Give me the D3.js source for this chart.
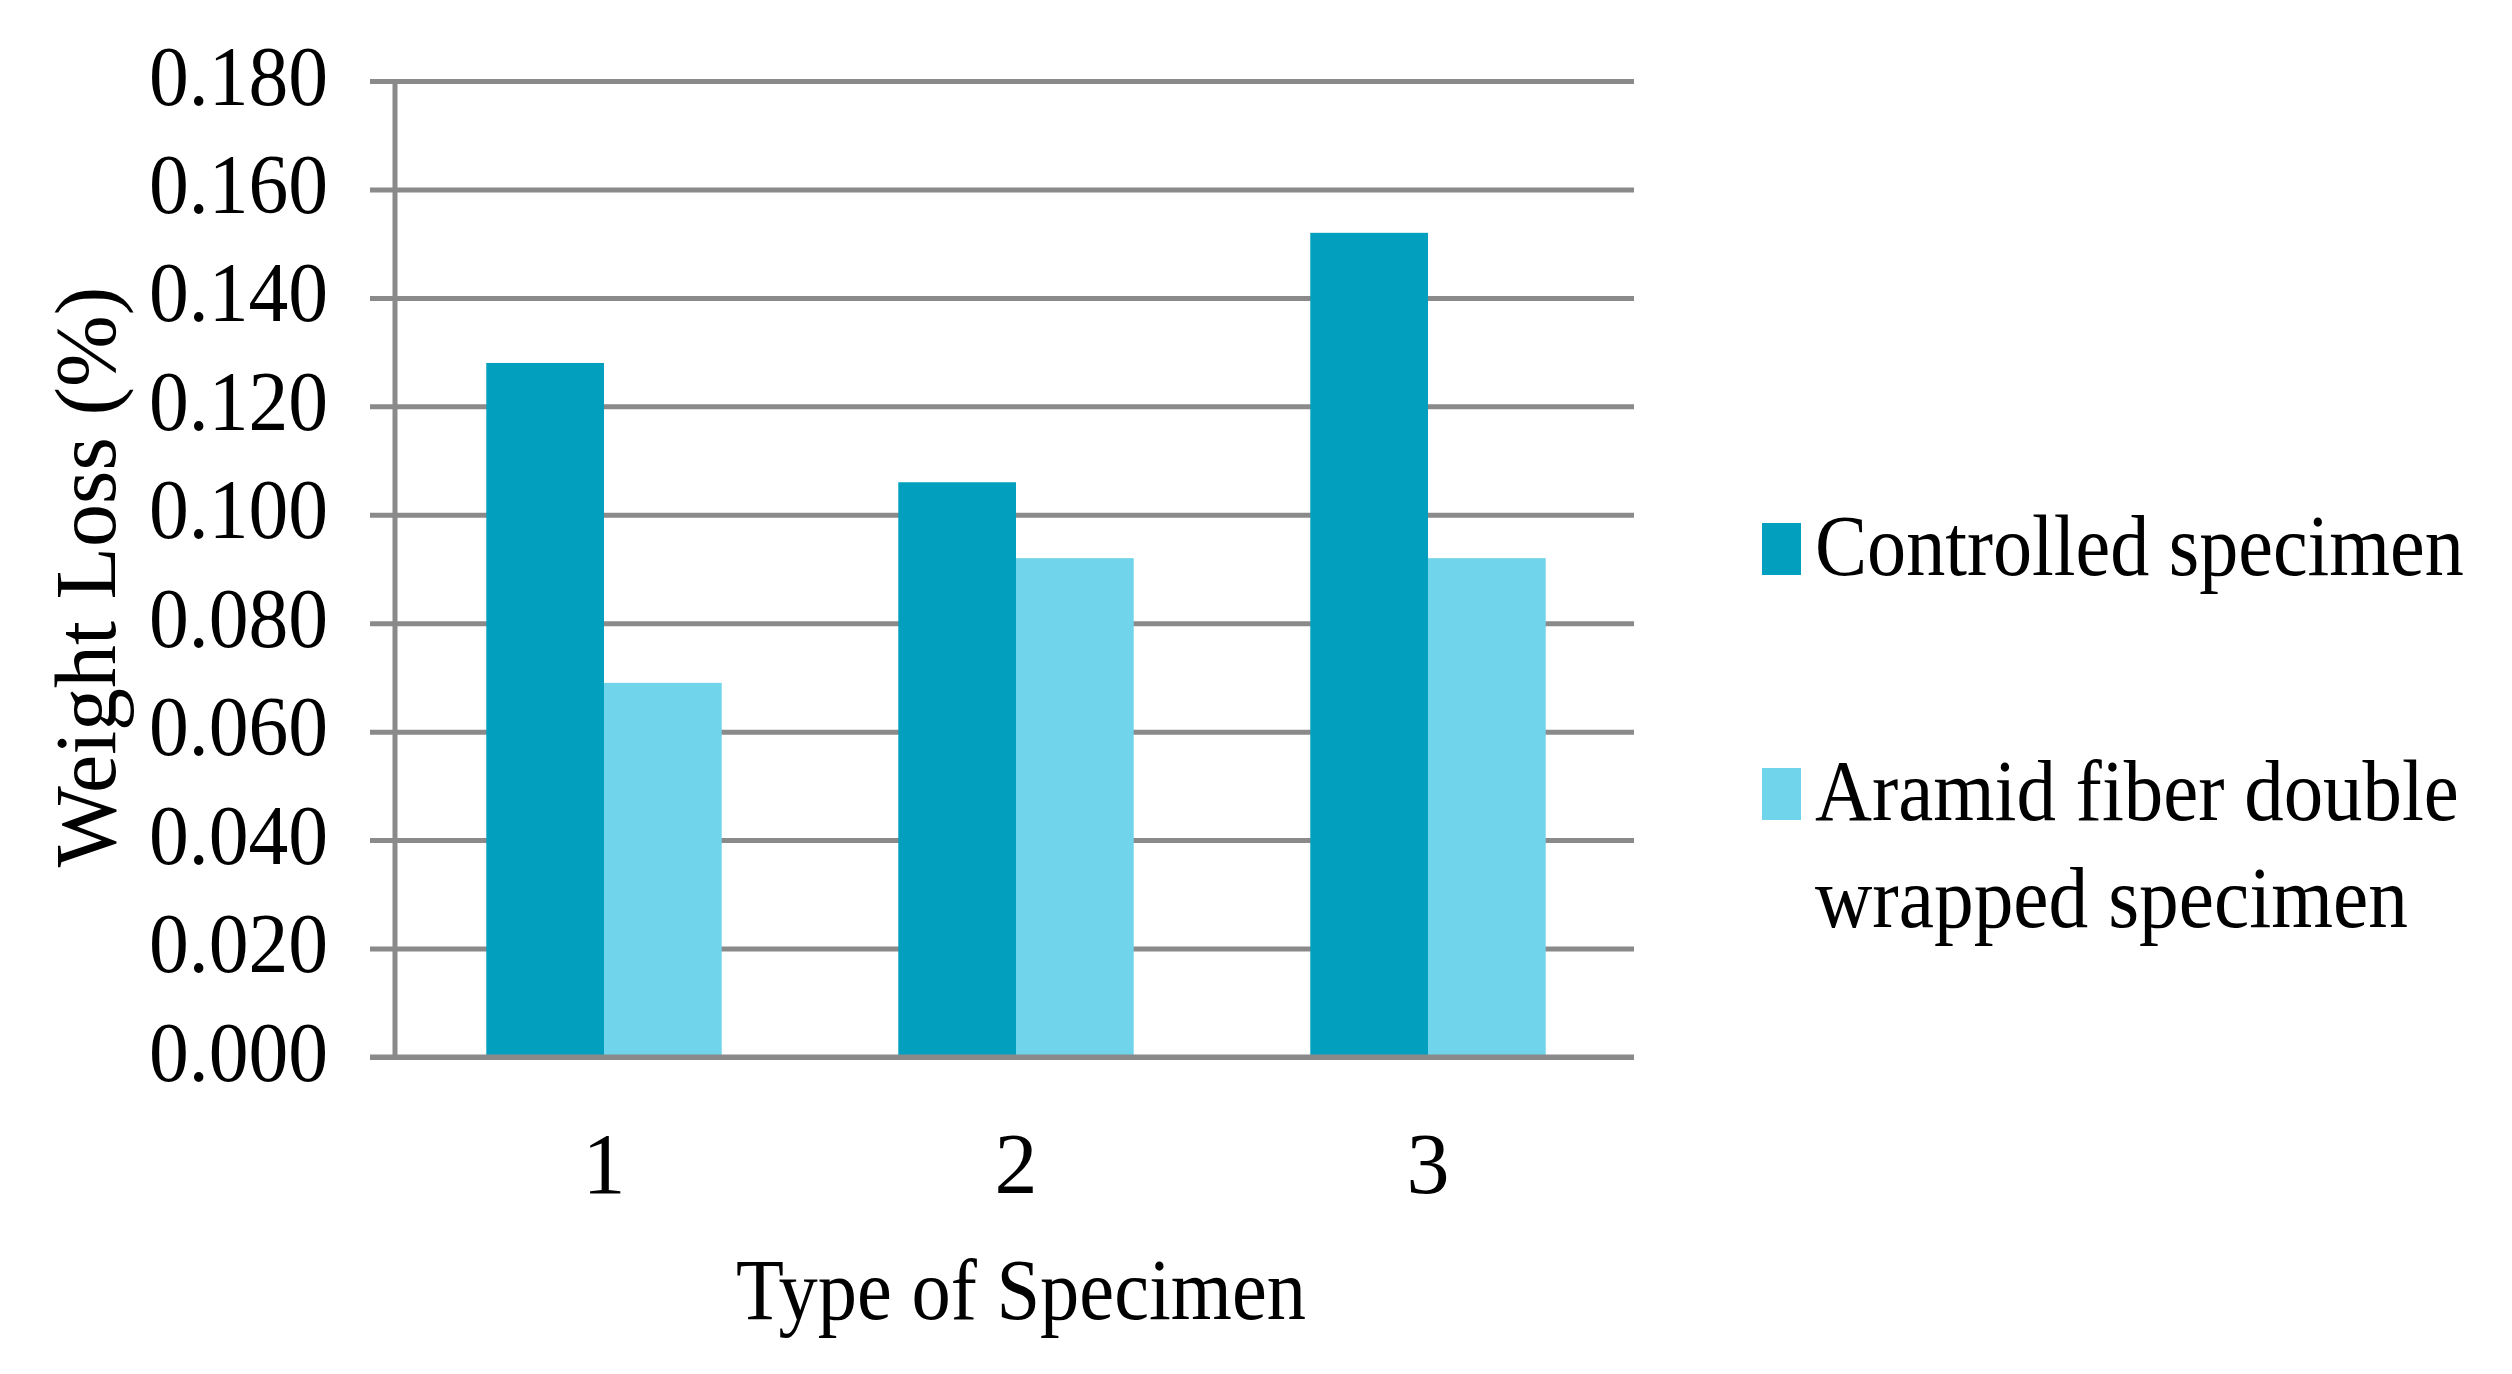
<!DOCTYPE html>
<html>
<head>
<meta charset="utf-8">
<script src="https://cdn.jsdelivr.net/npm/d3@7"></script>
<style>
  html, body { margin: 0; padding: 0; background: #ffffff; }
  svg { display: block; }
  text { font-family: "Liberation Serif", "Times New Roman", serif; fill: #000; }
</style>
</head>
<body>
<svg id="chart" width="2512" height="1374"></svg>
<script>
// ---- data ----
const categories = ["1", "2", "3"];
const seriesNames = ["Controlled specimen", "Aramid fiber double wrapped specimen"];
const controlled = [0.128, 0.106, 0.152];
const aramid = [0.069, 0.092, 0.092];
const yTicks = [0, 0.02, 0.04, 0.06, 0.08, 0.10, 0.12, 0.14, 0.16, 0.18];
const colors = ["#02A0BE", "#70D4EA"];
const xTitle = "Type of Specimen";
const yTitle = "Weight Loss (%)";
const legendLines = [["Controlled specimen"], ["Aramid fiber double", "wrapped specimen"]];

const seriesValues = [controlled, aramid];
const rows = categories.map((c, i) => ({ cat: c, vals: seriesValues.map(s => s[i]) }));

// ---- layout ----
const svg = d3.select("#chart");
svg.append("rect").attr("width", 2512).attr("height", 1374).attr("fill", "#fff");

const mLeft = 398, mRight = 1634, mTop = 81, mBottom = 1057;
const gridColor = "#8a8a8a";

const x = d3.scaleBand().domain(categories).range([mLeft, mRight])
  .paddingInner(1.5 / 3.5).paddingOuter(0.75 / 3.5);
const x1 = d3.scaleBand().domain(d3.range(seriesNames.length)).range([0, x.bandwidth()]);
const y = d3.scaleLinear().domain([0, 0.18]).range([mBottom, mTop]);

// horizontally condense a text element (about its anchor) to a target width
function condense(sel, target, ax, ay) {
  sel.each(function() {
    const w = this.getComputedTextLength();
    const s = Math.min(1, target / w);
    d3.select(this).attr("transform", `translate(${ax},${ay}) scale(${s},1)`);
  });
}

// gridlines + y axis
const yAxis = d3.axisLeft(y).tickValues(yTicks).tickFormat(d3.format(".3f"))
  .tickSize(-(mRight - mLeft)).tickSizeOuter(0).tickPadding(0);
const gy = svg.append("g").attr("transform", `translate(${mLeft},0)`).call(yAxis);
gy.select(".domain").remove();
gy.selectAll(".tick line").attr("x1", -28).attr("stroke", gridColor).attr("stroke-width", 5);
gy.selectAll(".tick text")
  .attr("x", 0).attr("y", 0).attr("dy", null)
  .attr("font-size", 84)
  .attr("text-anchor", "end")
  .style("font-family", "'Liberation Serif', serif")
  .each(function() { condense(d3.select(this), 179, -70, 23); });

// bars
const groups = svg.append("g").selectAll("g").data(rows).join("g")
  .attr("transform", d => `translate(${x(d.cat)},0)`);
groups.selectAll("rect").data(d => d.vals.map((v, i) => ({ v, i }))).join("rect")
  .attr("x", d => x1(d.i))
  .attr("width", x1.bandwidth())
  .attr("y", d => y(d.v))
  .attr("height", d => y(0) - y(d.v))
  .attr("fill", d => colors[d.i]);

// axis lines on top
svg.append("line").attr("x1", mLeft - 3).attr("x2", mLeft - 3).attr("y1", mTop - 2).attr("y2", mBottom)
  .attr("stroke", gridColor).attr("stroke-width", 5);
svg.append("line").attr("x1", mLeft - 28).attr("x2", mRight).attr("y1", mBottom).attr("y2", mBottom)
  .attr("stroke", gridColor).attr("stroke-width", 5);

// x axis labels
const xAxis = d3.axisBottom(x).tickSize(0).tickPadding(0);
const gx = svg.append("g").attr("transform", `translate(0,${mBottom})`).call(xAxis);
gx.select(".domain").remove();
gx.selectAll(".tick text").attr("y", 136).attr("dy", null)
  .attr("font-size", 86)
  .style("font-family", "'Liberation Serif', serif");

// axis titles
const xt = svg.append("text").attr("text-anchor", "middle").attr("font-size", 86).text(xTitle);
condense(xt, 570, 1021, 1319);

const yt = svg.append("text").attr("text-anchor", "middle").attr("font-size", 86).text(yTitle);
yt.attr("transform", "translate(115,577) rotate(-90)");

// legend
const legendLayout = [
  { lens: [649], y0: 575 },
  { lens: [644, 593], y0: 820 }
];
const lg = svg.append("g");
legendLines.forEach((lines, i) => {
  const it = legendLayout[i];
  lg.append("rect").attr("x", 1762).attr("y", it.y0 - 52).attr("width", 39).attr("height", 52)
    .attr("fill", colors[i]);
  lines.forEach((ln, k) => {
    const t = lg.append("text").attr("font-size", 86).text(ln);
    condense(t, it.lens[k], 1815, it.y0 + k * 107);
  });
});
</script>
</body>
</html>
